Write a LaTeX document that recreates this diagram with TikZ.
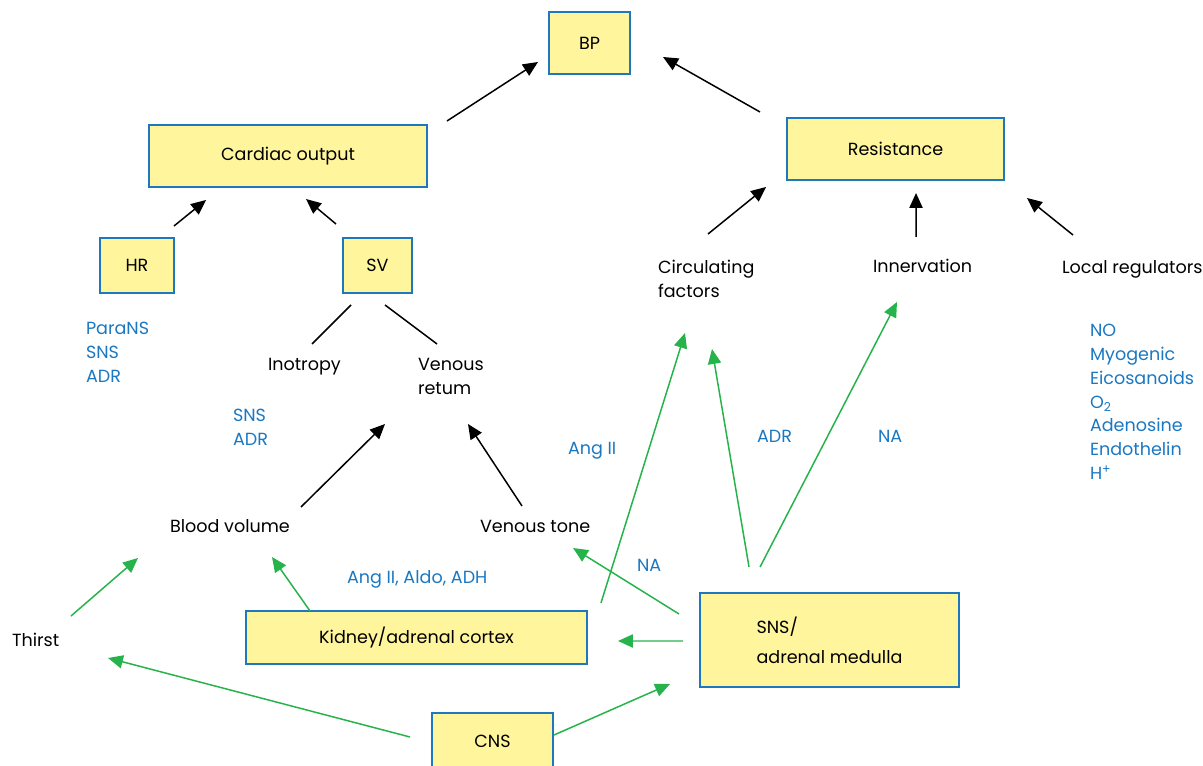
\documentclass[tikz,border=0pt]{standalone}
\usepackage{fontspec}
\setmainfont{Poppins}
\usetikzlibrary{arrows.meta,calc}
\definecolor{boxfill}{HTML}{FFF59C}
\definecolor{boxline}{HTML}{1E78BE}
\definecolor{bluetxt}{HTML}{1A78C2}
\definecolor{grn}{HTML}{27B34B}
\begin{document}
\begin{tikzpicture}[x=0.02cm,y=-0.02cm,
  every node/.style={inner sep=0pt,outer sep=0pt,font=\fontsize{10}{13.6}\selectfont},
  box/.style={draw=boxline,fill=boxfill,line width=0.9pt},
  lbl/.style={anchor=base west},
  bluelist/.style={anchor=north west,align=left,text=bluetxt},
  ar/.style={-{Triangle[length=8.5pt,width=7.5pt]},line width=0.85pt,draw=black},
  gar/.style={ar,draw=grn},
  plain/.style={line width=0.85pt,draw=black}]
\useasboundingbox (0,0) rectangle (1203,766);
% boxes
\node[box,minimum width=1.62cm,minimum height=1.24cm] (bp) at (589.5,43) {BP};
\node[box,minimum width=5.56cm,minimum height=1.24cm] (co) at (288,156) {Cardiac output};
\node[box,minimum width=4.34cm,minimum height=1.24cm] (res) at (895.5,149) {Resistance};
\node[box,minimum width=1.48cm,minimum height=1.10cm] (hr) at (137,265.5) {HR};
\node[box,minimum width=1.38cm,minimum height=1.10cm] (sv) at (377.5,265.5) {SV};
\node[box,minimum width=6.82cm,minimum height=1.06cm] (kid) at (416.5,637.5) {Kidney/adrenal cortex};
\node[box,minimum width=5.18cm,minimum height=1.88cm,align=left,font=\fontsize{10}{17}\selectfont] (sns) at (829.5,640) {SNS/\\adrenal medulla};
\node[box,minimum width=2.42cm,minimum height=1.14cm] (cns) at (492.5,741.5) {CNS};
% black labels
\node[lbl] (circ1) at (658,274) {Circulating};
\node[lbl] (circ2) at (658,298) {factors};
\node[lbl] (inn) at (873,273) {Innervation};
\node[lbl] (loc) at (1062,274) {Local regulators};
\node[lbl] (ino) at (268,371) {Inotropy};
\node[lbl] (vr1) at (418,371) {Venous};
\node[lbl] (vr2) at (418,395) {retum};
\node[lbl] (bv) at (170,532) {Blood volume};
\node[lbl] (vt) at (480,532) {Venous tone};
\node[lbl] (thirst) at (12,646) {Thirst};
% blue labels
\node[bluelist] (hrf) at (86,322) {ParaNS\\SNS\\ADR};
\node[bluelist] (inof) at (233,409) {SNS\\ADR};
\node[bluelist] (locf) at (1090,324) {NO\\Myogenic\\Eicosanoids\\O\textsubscript{2}\\Adenosine\\Endothelin\\H\textsuperscript{+}};
\node[lbl,text=bluetxt] (angii) at (568,455) {Ang II};
\node[lbl,text=bluetxt] (adr) at (757,443) {ADR};
\node[lbl,text=bluetxt] (na1) at (878,443) {NA};
\node[lbl,text=bluetxt] (na2) at (637,571) {NA};
\node[lbl,text=bluetxt] (aad) at (347,583) {Ang II, Aldo, ADH};
% black arrows
\draw[ar] ($(co.north east)+(20,-4)$) -- ($(bp.south west)+(-11,-12)$);
\draw[ar] ($(res.north west)+(-27,-6)$) -- ($(bp.south east)+(33,-17)$);
\draw[ar] ($(hr.north east)+(0,-12)$) -- ($(co.south west)+(57,13)$);
\draw[ar] ($(sv.north west)+(-7,-14)$) -- ($(co.south west)+(157,12)$);
\draw[ar] ($(circ2.base west)+(50,-64)$) -- ($(res.south west)+(-21,7)$);
\draw[ar] ($(inn.base west)+(43,-36)$) -- ($(res.south west)+(129,13)$);
\draw[ar] ($(loc.base west)+(11,-39)$) -- ($(res.south east)+(23,18)$);
\draw[plain] ($(sv.south west)+(8,12)$) -- ($(ino.base west)+(44,-27)$);
\draw[plain] ($(sv.south west)+(42,12)$) -- ($(vr1.base west)+(19,-27)$);
\draw[ar] ($(bv.base west)+(131,-25)$) -- ($(vr2.base west)+(-33,29)$);
\draw[ar] ($(vt.base west)+(42,-26)$) -- ($(vr2.base west)+(50,29)$);
% green arrows
\draw[gar] ($(thirst.base west)+(59,-30)$) -- ($(bv.base west)+(-32,26)$);
\draw[gar] ($(kid.north west)+(64,0)$) -- ($(bv.base west)+(102,25)$);
\draw[gar] ($(kid.north east)+(14,-8)$) -- ($(circ2.base west)+(27,35)$);
\draw[gar] ($(sns.north west)+(49,-26)$) -- ($(circ2.base west)+(54,51)$);
\draw[gar] ($(sns.north west)+(60,-26)$) -- ($(inn.base west)+(24,29)$);
\draw[gar] ($(sns.north west)+(-21,21)$) -- ($(vt.base west)+(93,16)$);
\draw[gar] ($(sns.west)+(-17,1)$) -- ($(kid.east)+(31,3.5)$);
\draw[gar] ($(cns.north west)+(-22,24)$) -- ($(thirst.base west)+(96,12)$);
\draw[gar] ($(cns.north east)+(1,22)$) -- ($(sns.south west)+(-30,-3)$);
\end{tikzpicture}
\end{document}
